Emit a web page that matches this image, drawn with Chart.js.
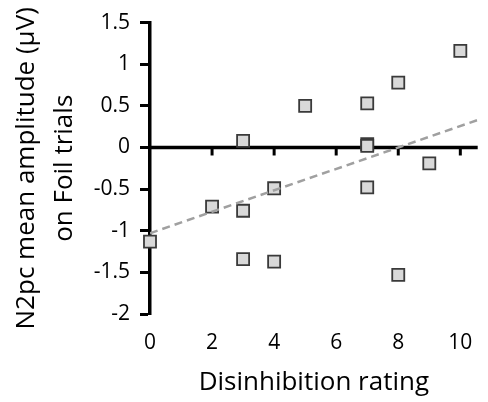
<!DOCTYPE html>
<html>
<head>
<meta charset="utf-8">
<script src="https://cdn.jsdelivr.net/npm/chart.js@4"></script>
<style>
  html, body { margin: 0; padding: 0; background: #fff; }
  #wrap { width: 488px; height: 402px; }
</style>
</head>
<body>
<div id="wrap"><canvas id="chart"></canvas></div>
<script>
const ratings = [0, 2, 3, 3, 3, 4, 4, 5, 7, 7, 7, 7, 8, 8, 9, 10];
const amplitudes = [-1.13, -0.71, 0.08, -0.76, -1.34, -0.49, -1.37, 0.5, 0.53, 0.04, 0.02, -0.48, 0.78, -1.53, -0.19, 1.16];
const trendX = [0, 10.56];
const trendY = [-1.03, 0.33];
const xTicks = [0, 2, 4, 6, 8, 10];
const yTicks = [-2, -1.5, -1, -0.5, 0, 0.5, 1, 1.5];

const points = ratings.map((r, i) => ({ x: r, y: amplitudes[i] }));
const trend = trendX.map((x, i) => ({ x: x, y: trendY[i] }));

// x axis is drawn through y = 0, with small ticks hanging below it
const zeroAxis = {
    id: 'zeroAxis',
    beforeDatasetsDraw(chart) {
        const { ctx, chartArea, scales } = chart;
        const y0 = scales.y.getPixelForValue(0);
        ctx.save();
        ctx.strokeStyle = '#000';
        ctx.lineWidth = 3.5;
        ctx.beginPath();
        ctx.moveTo(chartArea.left, y0);
        ctx.lineTo(chartArea.right, y0);
        ctx.stroke();
        ctx.lineWidth = 3;
        xTicks.slice(1).forEach(v => {
            const x = scales.x.getPixelForValue(v);
            ctx.beginPath();
            ctx.moveTo(x, y0);
            ctx.lineTo(x, y0 + 8);
            ctx.stroke();
        });
        ctx.restore();
    }
};

Chart.defaults.font.family = '"Open Sans", sans-serif';
Chart.defaults.color = '#000';

new Chart(document.getElementById('chart'), {
    type: 'scatter',
    data: {
        datasets: [{
            data: trend,
            type: 'line',
            showLine: true,
            borderColor: '#a0a0a0',
            borderWidth: 2.5,
            borderDash: [8, 5],
            pointRadius: 0,
            fill: false,
            order: 0
        }, {
            data: points,
            pointStyle: 'rect',
            pointRadius: 8.5,
            pointBackgroundColor: '#d9d9d9',
            pointBorderColor: '#3a3a3a',
            pointBorderWidth: 1.8,
            clip: false,
            order: 1
        }]
    },
    plugins: [zeroAxis],
    options: {
        animation: false,
        responsive: true,
        maintainAspectRatio: false,
        layout: { padding: { top: 17, right: 0, bottom: 0, left: 0 } },
        plugins: {
            legend: { display: false },
            tooltip: { enabled: false }
        },
        scales: {
            x: {
                type: 'linear',
                min: 0,
                max: 10.56,
                afterBuildTicks: s => { s.ticks = xTicks.map(v => ({ value: v })); },
                afterFit: s => { s.height = 88; },
                grid: { display: false },
                border: { display: false },
                ticks: { font: { size: 21 }, padding: 8, maxRotation: 0, callback: v => String(v) },
                title: {
                    display: true,
                    text: 'Disinhibition rating',
                    font: { size: 26 },
                    padding: { top: 0, bottom: 4 }
                }
            },
            y: {
                min: -2,
                max: 1.5,
                afterBuildTicks: s => { s.ticks = yTicks.map(v => ({ value: v })); },
                afterFit: s => { s.width = 150; },
                grid: {
                    drawOnChartArea: false,
                    drawTicks: true,
                    tickLength: 10,
                    tickWidth: 3,
                    tickColor: '#000'
                },
                border: { display: true, width: 3.5, color: '#000' },
                ticks: { font: { size: 21 }, padding: 10, callback: v => String(v) },
                title: {
                    display: true,
                    text: ['N2pc mean amplitude (µV)', 'on Foil trials'],
                    font: { size: 26, lineHeight: 1.45 },
                    padding: { top: 8, bottom: 0 }
                }
            }
        }
    }
});
</script>
</body>
</html>
